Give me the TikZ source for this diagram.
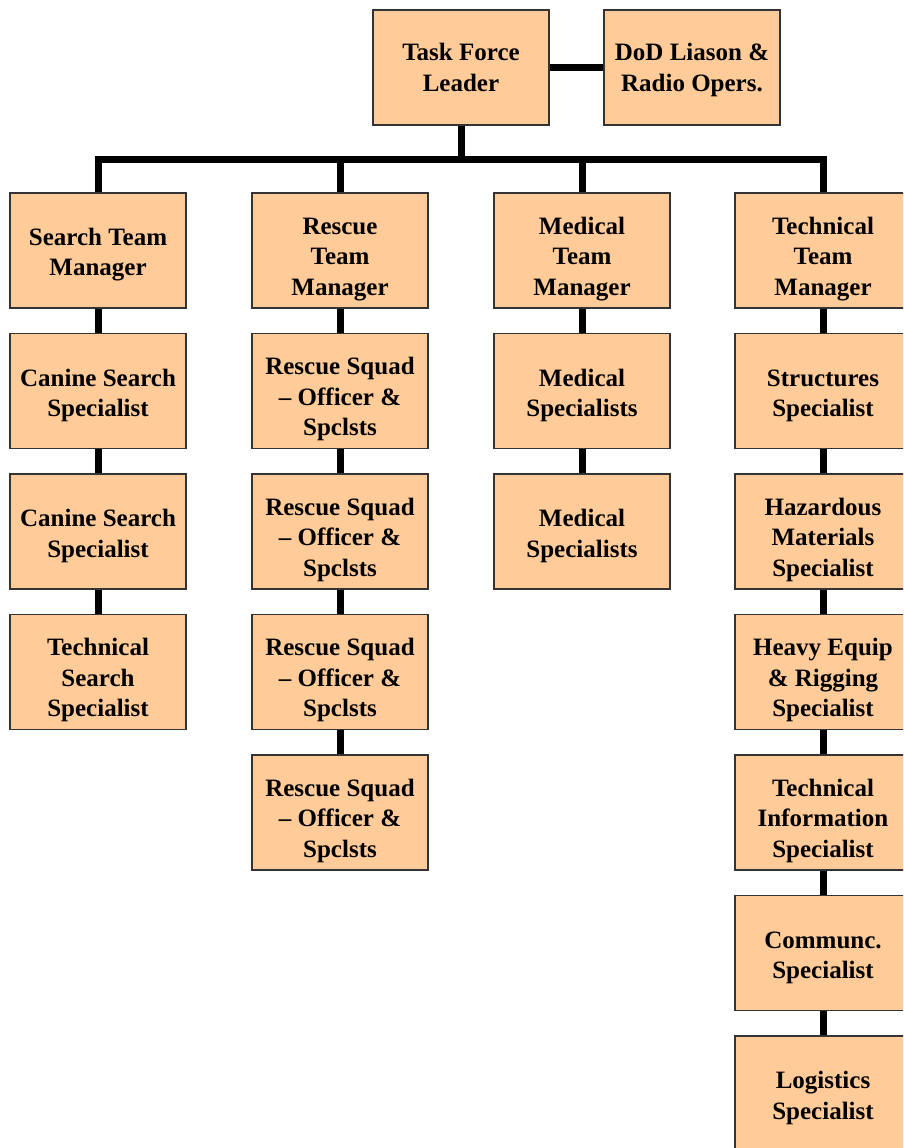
\documentclass[tikz,border=0pt]{standalone}
\usepackage{fontspec}
\setmainfont{Liberation Serif}
\definecolor{boxfill}{HTML}{FFCC99}
\definecolor{boxline}{HTML}{333333}
\newcommand\lowone{\rule{0pt}{22pt}}
\newcommand\lowtwo{\rule{0pt}{26pt}}
\newcommand\lowthree{\rule{0pt}{34pt}}
\begin{document}
\begin{tikzpicture}[x=1pt,y=-1pt,
  box/.style={draw=boxline,line width=1.5pt,fill=boxfill,minimum width=176pt,minimum height=115pt,
    inner sep=0pt,align=center,font=\fontsize{25}{30.5}\selectfont\bfseries},
  conn/.style={line width=7pt,black}]
\useasboundingbox (0,0) rectangle (903,1148);
\clip (0,0) rectangle (903,1148);
\fill[white] (0,0) rectangle (903,1148);
% top
\node[box] (tfl) at (461,67.5) {Task Force\\Leader};
\node[box] (dod) at (692,67.5) {\lowone DoD Liason \&\\Radio Opers.};
% row 0
\node[box] (a0) at (98,250.5) {\lowtwo Search Team\\Manager};
\node[box] (b0) at (340,250.5) {\lowthree Rescue\\Team\\Manager};
\node[box] (c0) at (582,250.5) {\lowthree Medical\\Team\\Manager};
\node[box] (d0) at (823,250.5) {\lowthree Technical\\Team\\Manager};
% column a
\node[box] (a1) at (98,391) {\lowtwo Canine Search\\Specialist};
\node[box] (a2) at (98,531.5) {\lowtwo Canine Search\\Specialist};
\node[box] (a3) at (98,672) {\lowthree Technical\\Search\\Specialist};
% column b
\node[box] (b1) at (340,391) {\lowthree Rescue Squad\\– Officer \&\\Spclsts};
\node[box] (b2) at (340,531.5) {\lowthree Rescue Squad\\– Officer \&\\Spclsts};
\node[box] (b3) at (340,672) {\lowthree Rescue Squad\\– Officer \&\\Spclsts};
\node[box] (b4) at (340,812.5) {\lowthree Rescue Squad\\– Officer \&\\Spclsts};
% column c
\node[box] (c1) at (582,391) {\lowtwo Medical\\Specialists};
\node[box] (c2) at (582,531.5) {\lowtwo Medical\\Specialists};
% column d
\node[box] (d1) at (823,391) {\lowtwo Structures\\Specialist};
\node[box] (d2) at (823,531.5) {\lowthree Hazardous\\Materials\\Specialist};
\node[box] (d3) at (823,672) {\lowthree Heavy Equip\\\& Rigging\\Specialist};
\node[box] (d4) at (823,812.5) {\lowthree Technical\\Information\\Specialist};
\node[box] (d5) at (823,953) {\lowtwo Communc.\\Specialist};
\node[box] (d6) at (823,1093.5) {\lowtwo Logistics\\Specialist};
% connectors
\coordinate (bus) at (0,159.5);
\draw[conn] (tfl.east) -- (dod.west);
\draw[conn] (tfl.south) -- (tfl.south |- bus);
\draw[conn,line cap=rect] (a0.north |- bus) -- (d0.north |- bus);
\foreach \n in {a0,b0,c0,d0} \draw[conn] (\n.north |- bus) -- (\n.north);
\draw[conn] (a0.south) -- (a1.north);
\draw[conn] (a1.south) -- (a2.north);
\draw[conn] (a2.south) -- (a3.north);
\draw[conn] (b0.south) -- (b1.north);
\draw[conn] (b1.south) -- (b2.north);
\draw[conn] (b2.south) -- (b3.north);
\draw[conn] (b3.south) -- (b4.north);
\draw[conn] (c0.south) -- (c1.north);
\draw[conn] (c1.south) -- (c2.north);
\draw[conn] (d0.south) -- (d1.north);
\draw[conn] (d1.south) -- (d2.north);
\draw[conn] (d2.south) -- (d3.north);
\draw[conn] (d3.south) -- (d4.north);
\draw[conn] (d4.south) -- (d5.north);
\draw[conn] (d5.south) -- (d6.north);
\end{tikzpicture}
\end{document}
